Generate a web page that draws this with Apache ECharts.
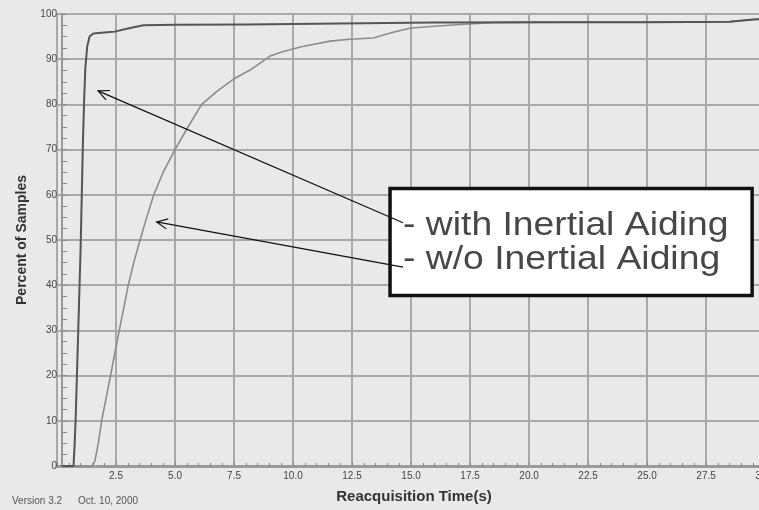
<!DOCTYPE html>
<html><head><meta charset="utf-8">
<script src="https://cdn.jsdelivr.net/npm/echarts@6/dist/echarts.min.js"></script>
<style>html,body{margin:0;padding:0;background:#e9e9e9}#c{width:759px;height:510px}</style>
</head><body><div id="c"></div>
<script>
// ---- data ----
const withTime    = [0.2, 0.7, 0.75, 0.8, 0.9, 1.0, 1.05, 1.1, 1.15, 1.2, 1.28, 1.38, 1.54, 2.0, 2.45, 3.0, 3.66, 5.0, 8.0, 12.0, 16.0, 20.0, 25.0, 28.5, 29.5, 30.25];
const withPercent = [0,   0,   5,    12,  30,  48,  60,   72,  81,   88,  92.8, 95,  95.7, 95.9, 96.1, 96.8, 97.5, 97.6, 97.7, 97.9, 98.1, 98.2, 98.2, 98.3, 98.8, 99.0];
const woTime      = [0.2, 1.5, 1.6, 1.75, 1.89, 2.08, 2.27, 2.45, 2.64, 2.83, 3.02, 3.25, 3.52, 3.8, 4.1, 4.5, 5.0, 5.55, 6.13, 6.8, 7.54, 8.18, 9.03, 9.59, 10.4, 11.57, 12.4, 13.4, 14.2, 14.5, 15.0, 16.0, 17.4, 18.5, 22.0, 28.5, 29.5, 30.25];
const woPercent   = [0,   0,   1,   5,    10,   15,   20,   25,   30,   35,   40,   45,   50,   55,  60,  65,  70,  75,   80,   83,  85.8, 87.6, 90.7, 91.7, 92.8, 94.0,  94.4, 94.7, 95.9, 96.3, 96.9, 97.3, 97.8, 98.1, 98.2, 98.3, 98.8, 99.0];
const seriesNames = ['with Inertial Aiding', 'w/o Inertial Aiding'];
const xTitle = 'Reacquisition Time(s)';
const yTitle = 'Percent of Samples';
const footerLeft = 'Version 3.2';
const footerRight = 'Oct. 10, 2000';

const FONT = '"Liberation Sans", Arial, sans-serif';
const pairs = (xs, ys) => xs.map((x, i) => [x, ys[i]]);

const chart = echarts.init(document.getElementById('c'), null, {renderer: 'canvas'});
chart.setOption({
  backgroundColor: '#e9e9e9',
  animation: false,
  grid: {left: 57, right: -12, top: 14, bottom: 44, containLabel: false, outerBoundsMode: 'none'},
  xAxis: [{
    type: 'value', min: 0, max: 30.25, interval: 2.5,
    name: xTitle, nameLocation: 'middle', nameGap: 23,
    nameTextStyle: {fontFamily: FONT, fontSize: 15, fontWeight: 'bold', color: '#333'},
    axisLine: {show: true, onZero: false, lineStyle: {color: '#999', width: 2}},
    axisTick: {show: true, inside: true, length: 4, lineStyle: {color: '#888'}},
    minorTick: {show: true, splitNumber: 5, length: 3, lineStyle: {color: '#888'}},
    axisLabel: {showMinLabel: false, showMaxLabel: false, hideOverlap: false, margin: 5, fontFamily: FONT, fontSize: 10, color: '#444',
      formatter: v => v.toFixed(1)},
    splitLine: {show: true, lineStyle: {color: '#a9a9a9', width: 2}}
  }, {
    type: 'value', position: 'top', min: 0, max: 30.25,
    axisLine: {show: true, lineStyle: {color: '#9a9a9a', width: 3}},
    axisTick: {show: false}, axisLabel: {show: false}, splitLine: {show: false}
  }],
  yAxis: {
    type: 'value', min: 0, max: 100, interval: 10, offset: -5,
    name: yTitle, nameLocation: 'middle', nameGap: 23, nameRotate: 90,
    nameTextStyle: {fontFamily: FONT, fontSize: 14, fontWeight: 'bold', color: '#333'},
    axisLine: {show: true, lineStyle: {color: '#999', width: 2}},
    axisTick: {show: true, inside: true, length: 5, lineStyle: {color: '#888'}},
    minorTick: {show: true, splitNumber: 4, length: 5, lineStyle: {color: '#888'}},
    axisLabel: {margin: 5, fontFamily: FONT, fontSize: 10, color: '#444'},
    splitLine: {show: true, lineStyle: {color: '#a9a9a9', width: 2}}
  },
  series: [{
    name: seriesNames[1], type: 'line', data: pairs(woTime, woPercent),
    showSymbol: false, color: '#8c8c8c', lineStyle: {color: '#8c8c8c', width: 1.6}, z: 2
  }, {
    name: seriesNames[0], type: 'line', data: pairs(withTime, withPercent),
    showSymbol: false, color: '#555', lineStyle: {color: '#555', width: 2}, z: 3
  }]
});

// ---- annotation (anchored in data coordinates) ----
const px = (x, y) => chart.convertToPixel({xAxisIndex: 0, yAxisIndex: 0}, [x, y]);
const boxTL = px(14.11, 61.4), boxBR = px(29.45, 37.7);
const txt1 = px(14.66, 53.2), txt2 = px(14.66, 45.6);
const arrows = [
  {from: px(14.66, 53.8), to: px(1.74, 83.0)},
  {from: px(14.66, 44.0), to: px(4.22, 54.0)}
];
const g = [];
g.push({type: 'rect', z: 100, shape: {x: boxTL[0], y: boxTL[1], width: boxBR[0] - boxTL[0], height: boxBR[1] - boxTL[1]},
  style: {fill: '#fff', stroke: '#111', lineWidth: 3.5}});
[[txt1, '- ' + seriesNames[0]], [txt2, '- ' + seriesNames[1]]].forEach(([p, t]) => {
  g.push({type: 'text', z: 101, x: p[0], y: p[1], scaleX: 1.13,
    style: {text: t, x: 0, y: 0, fill: '#474747', font: '33px ' + FONT, textAlign: 'left', textVerticalAlign: 'middle'}});
});
arrows.forEach(a => {
  const dx = a.to[0] - a.from[0], dy = a.to[1] - a.from[1];
  const L = Math.hypot(dx, dy), ux = dx / L, uy = dy / L;
  const head = 12, ang = 25 * Math.PI / 180;
  const wing = s => [a.to[0] - head * (ux * Math.cos(ang) - s * uy * Math.sin(ang)),
                     a.to[1] - head * (uy * Math.cos(ang) + s * ux * Math.sin(ang))];
  g.push({type: 'line', z: 102, shape: {x1: a.from[0], y1: a.from[1], x2: a.to[0], y2: a.to[1]},
    style: {stroke: '#111', lineWidth: 1.2}});
  g.push({type: 'polyline', z: 102, shape: {points: [wing(1), a.to, wing(-1)]},
    style: {stroke: '#111', lineWidth: 1.2, fill: null}});
});
g.push({type: 'text', left: 12, top: 496, style: {text: footerLeft, fill: '#555', font: '10px ' + FONT}});
g.push({type: 'text', left: 78, top: 496, style: {text: footerRight, fill: '#555', font: '10px ' + FONT}});
chart.setOption({graphic: g});
</script>
</body></html>
